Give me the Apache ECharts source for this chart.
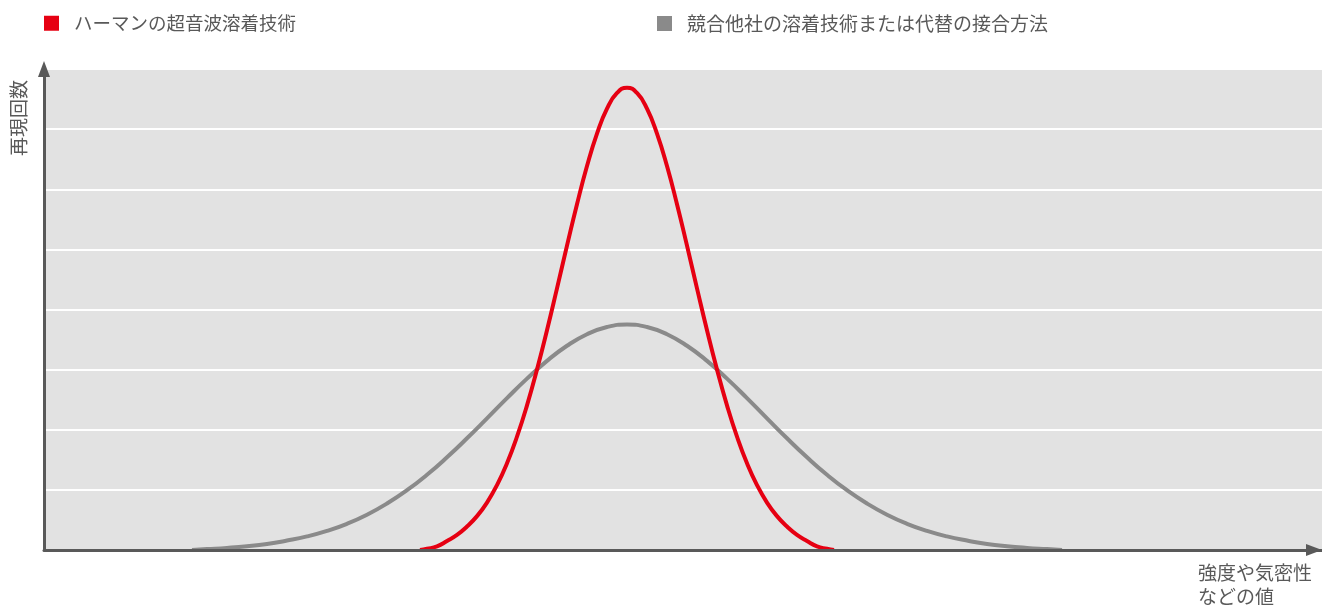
<!DOCTYPE html>
<html>
<head>
<meta charset="utf-8">
<script src="https://cdn.jsdelivr.net/npm/echarts@6/dist/echarts.min.js"></script>
<style>
html,body{margin:0;padding:0;background:#fff;}
#chart{width:1322px;height:605px;}
</style>
</head>
<body>
<div id="chart"></div>
<script>
var seriesNames = ['ハーマンの超音波溶着技術', '競合他社の溶着技術または代替の接合方法'];
var yAxisName = '再現回数';
var xAxisName = '強度や気密性\nなどの値';

var redX = [376,383,393,403,413,423,433,443,453,463,473,483,493,503,513,523,533,543,553,563,573,583,593,603,613,623,633,643,653,663,673,683,693,703,713,723,733,743,753,763,773,783,790];
var redY = [0,0.02,0.06,0.15,0.25,0.39,0.563,0.789,1.080,1.443,1.885,2.406,3.001,3.656,4.352,5.062,5.751,6.386,6.926,7.341,7.601,7.690,7.601,7.341,6.926,6.386,5.751,5.062,4.352,3.656,3.001,2.406,1.885,1.443,1.080,0.789,0.563,0.39,0.25,0.15,0.06,0.02,0];

var grayX = [148,163,183,203,223,243,263,283,303,323,343,363,383,403,423,443,463,483,503,523,543,563,583,603,623,643,663,683,703,723,743,763,783,803,823,843,863,883,903,923,943,963,983,1003,1018];
var grayY = [0,0.015,0.035,0.062,0.10,0.157,0.226,0.318,0.436,0.587,0.773,0.994,1.251,1.542,1.858,2.190,2.526,2.850,3.146,3.397,3.589,3.709,3.750,3.709,3.589,3.397,3.146,2.850,2.526,2.190,1.858,1.542,1.251,0.994,0.773,0.587,0.436,0.318,0.226,0.157,0.10,0.062,0.035,0.015,0];

function pairs(xs, ys) {
  var out = [];
  for (var i = 0; i < xs.length; i++) out.push([xs[i], ys[i]]);
  return out;
}

var FONT = '"Noto Sans CJK JP", "Noto Sans", sans-serif';
var TXT = '#595959';
var chart = echarts.init(document.getElementById('chart'), null, {renderer: 'canvas'});
chart.setOption({
  animation: false,
  textStyle: {fontFamily: FONT},
  legend: [
    {data: [seriesNames[0]], left: 44, top: 14, padding: 0, icon: 'rect', itemWidth: 15, itemHeight: 15,
     textStyle: {fontSize: 18.5, color: TXT, fontFamily: FONT, padding: [0, 0, 0, 10]}},
    {data: [seriesNames[1]], left: 657, top: 14, padding: 0, icon: 'rect', itemWidth: 15, itemHeight: 15,
     textStyle: {fontSize: 19, color: TXT, fontFamily: FONT, padding: [0, 0, 0, 10]}}
  ],
  grid: {left: 44, right: 0, top: 69, bottom: 55, show: true, backgroundColor: '#e2e2e2', borderWidth: 0, containLabel: false},
  xAxis: {
    type: 'value', min: 0, max: 1278, z: 5,
    axisLine: {show: true, symbol: ['none', 'triangle'], symbolSize: [12, 16], symbolOffset: [0, -8],
               lineStyle: {color: '#595959', width: 3}},
    axisTick: {show: false}, axisLabel: {show: false}, splitLine: {show: false}
  },
  yAxis: {
    type: 'value', min: 0, max: 8, interval: 1,
    axisLine: {show: true, symbol: ['none', 'triangle'], symbolSize: [12, 16], symbolOffset: [0, 0],
               lineStyle: {color: '#595959', width: 3}},
    axisTick: {show: false}, axisLabel: {show: false},
    splitLine: {show: true, lineStyle: {color: '#ffffff', width: 2}}
  },
  graphic: [
    {type: 'text', x: 19, y: 118, rotation: Math.PI / 2,
     style: {text: yAxisName, fill: TXT, font: '19px ' + FONT, textAlign: 'center', textVerticalAlign: 'middle'}},
    {type: 'text', x: 1198, y: 561,
     style: {text: xAxisName, fill: TXT, font: '19px ' + FONT, textAlign: 'left', textVerticalAlign: 'top', lineHeight: 24}}
  ],
  series: [
    {name: seriesNames[1], type: 'line', data: pairs(grayX, grayY), showSymbol: false, symbol: 'none', smooth: true,
     lineStyle: {color: '#8a8a8a', width: 4}, itemStyle: {color: '#8a8a8a'}, z: 2},
    {name: seriesNames[0], type: 'line', data: pairs(redX, redY), showSymbol: false, symbol: 'none', smooth: true,
     lineStyle: {color: '#e60012', width: 4}, itemStyle: {color: '#e60012'}, z: 3}
  ]
});
</script>
</body>
</html>
